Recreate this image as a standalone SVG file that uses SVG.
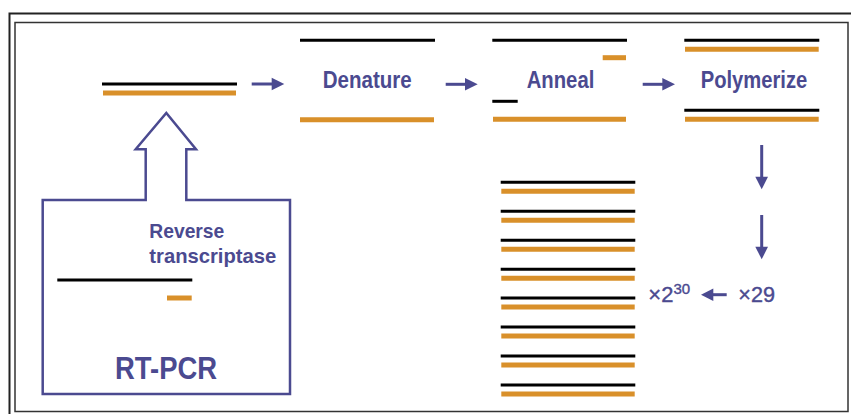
<svg xmlns="http://www.w3.org/2000/svg" width="851" height="414" viewBox="0 0 851 414">
<style>
.k{stroke:#000;stroke-width:3;fill:none}
.o{stroke:#d9902a;stroke-width:5;fill:none}
.lbl{font-family:"Liberation Sans",Arial,sans-serif;font-weight:bold;fill:#4b4a90}
.mul{font-family:"Liberation Sans",Arial,sans-serif;fill:#4b4a90;stroke:#4b4a90;stroke-width:0.4}
.sh{stroke:#4b4a90;stroke-width:3;fill:none}
.hd{fill:#4b4a90}
</style>
<rect width="851" height="414" fill="#fff"/>
<g id="frame">
<path d="M9.5,414 V13.5 H851" stroke="#222" stroke-width="2" fill="none"/>
<rect x="15" y="22.5" width="833" height="389" stroke="#333" stroke-width="1.5" fill="none"/>
</g>
<g id="rna-cdna">
<line class="k" x1="102" y1="84" x2="237" y2="84"/>
<line class="o" x1="103" y1="93" x2="236" y2="93"/>
</g>
<g id="rtpcr">
<path d="M145.7,200 H42.7 V394 H290 V200 H186.3 V149.3 H196 L166.3,113 L135.7,149.3 H145.7 Z" stroke="#4b4a90" stroke-width="2.5" fill="none"/>
<text class="lbl" x="149.3" y="238.3" font-size="21" textLength="75" lengthAdjust="spacingAndGlyphs">Reverse</text>
<text class="lbl" x="149.3" y="262.7" font-size="21" textLength="127" lengthAdjust="spacingAndGlyphs">transcriptase</text>
<line class="k" x1="57.3" y1="280" x2="192.3" y2="280"/>
<line class="o" x1="167" y1="298" x2="191.7" y2="298"/>
<text class="lbl" x="115" y="379" font-size="32" textLength="102" lengthAdjust="spacingAndGlyphs">RT-PCR</text>
</g>
<g id="denature">
<line class="k" x1="300" y1="40.3" x2="435" y2="40.3"/>
<text class="lbl" x="322.7" y="88" font-size="23" textLength="89" lengthAdjust="spacingAndGlyphs">Denature</text>
<line class="o" x1="300" y1="119.7" x2="434" y2="119.7"/>
</g>
<g id="anneal">
<line class="k" x1="492.3" y1="40.3" x2="627" y2="40.3"/>
<line class="o" x1="602.7" y1="57.7" x2="626" y2="57.7"/>
<text class="lbl" x="526.7" y="87.5" font-size="23" textLength="67.6" lengthAdjust="spacingAndGlyphs">Anneal</text>
<line class="k" x1="492.3" y1="101.3" x2="517.7" y2="101.3"/>
<line class="o" x1="493" y1="119.3" x2="626" y2="119.3"/>
</g>
<g id="polymerize">
<line class="k" x1="684.3" y1="40.3" x2="819.3" y2="40.3"/>
<line class="o" x1="685" y1="49.3" x2="818.7" y2="49.3"/>
<text class="lbl" x="700.7" y="88" font-size="23" textLength="106.6" lengthAdjust="spacingAndGlyphs">Polymerize</text>
<line class="k" x1="684.3" y1="110.3" x2="819.3" y2="110.3"/>
<line class="o" x1="685" y1="119.3" x2="818.7" y2="119.3"/>
</g>
<g id="products">
<line class="k" x1="500.7" y1="182.3" x2="635.3" y2="182.3"/><line class="o" x1="501.3" y1="191.3" x2="634.7" y2="191.3"/>
<line class="k" x1="500.7" y1="211.3" x2="635.3" y2="211.3"/><line class="o" x1="501.3" y1="220.3" x2="634.7" y2="220.3"/>
<line class="k" x1="500.7" y1="240.2" x2="635.3" y2="240.2"/><line class="o" x1="501.3" y1="249.2" x2="634.7" y2="249.2"/>
<line class="k" x1="500.7" y1="269.2" x2="635.3" y2="269.2"/><line class="o" x1="501.3" y1="278.2" x2="634.7" y2="278.2"/>
<line class="k" x1="500.7" y1="298.1" x2="635.3" y2="298.1"/><line class="o" x1="501.3" y1="307.1" x2="634.7" y2="307.1"/>
<line class="k" x1="500.7" y1="327.1" x2="635.3" y2="327.1"/><line class="o" x1="501.3" y1="336.1" x2="634.7" y2="336.1"/>
<line class="k" x1="500.7" y1="356" x2="635.3" y2="356"/><line class="o" x1="501.3" y1="365" x2="634.7" y2="365"/>
<line class="k" x1="500.7" y1="385" x2="635.3" y2="385"/><line class="o" x1="501.3" y1="394" x2="634.7" y2="394"/>
</g>
<g id="x29">
<text class="mul" x="738.3" y="301.7" font-size="22" textLength="36.7" lengthAdjust="spacingAndGlyphs">×29</text>
</g>
<g id="x2-30">
<text class="mul" x="648.3" y="301.7" font-size="22">×2<tspan font-size="15" dy="-8">30</tspan></text>
</g>
<g id="connectors">
<line class="sh" x1="251.7" y1="84" x2="273" y2="84"/><path class="hd" d="M271.7,77.7 L284.3,84 L271.7,90.3 Z"/>
<line class="sh" x1="445.7" y1="84.3" x2="466" y2="84.3"/><path class="hd" d="M465,78 L477.7,84.3 L465,90.6 Z"/>
<line class="sh" x1="642.7" y1="84.3" x2="664" y2="84.3"/><path class="hd" d="M662.3,78 L675,84.3 L662.3,90.6 Z"/>
<line class="sh" x1="761.7" y1="145" x2="761.7" y2="178"/><path class="hd" d="M755.3,176.7 L768,176.7 L761.7,189.3 Z"/>
<line class="sh" x1="761.7" y1="215" x2="761.7" y2="248"/><path class="hd" d="M755.3,246.7 L768,246.7 L761.7,259.3 Z"/>
<line class="sh" x1="726.7" y1="294.7" x2="712" y2="294.7"/><path class="hd" d="M713.3,288.4 L701,294.7 L713.3,301 Z"/>
</g>
</svg>
